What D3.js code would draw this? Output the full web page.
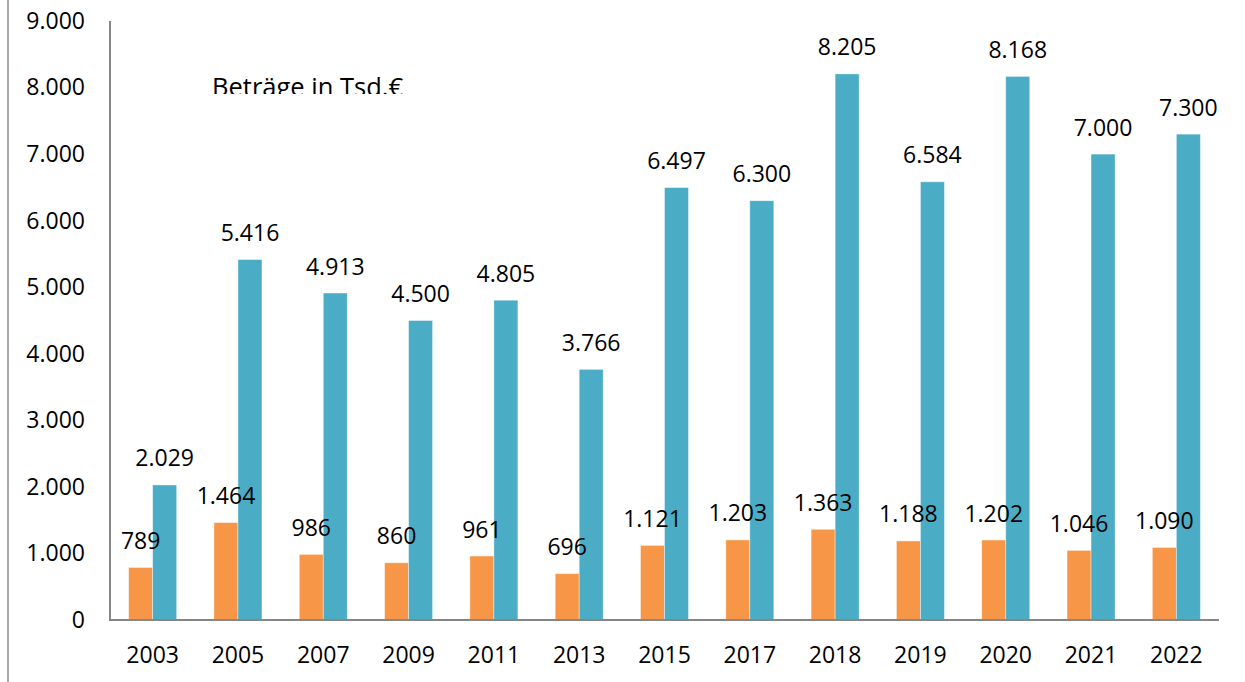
<!DOCTYPE html>
<html>
<head>
<meta charset="utf-8">
<script src="https://cdn.jsdelivr.net/npm/d3@7"></script>
<style>
  body { margin: 0; background: #fff; }
  svg { display: block; font-family: "Open Sans", sans-serif; }
</style>
</head>
<body>
<div id="chart"></div>
<script>
// Data
const years = ["2003", "2005", "2007", "2009", "2011", "2013", "2015", "2017", "2018", "2019", "2020", "2021", "2022"];
const orangeValues = [789, 1464, 986, 860, 961, 696, 1121, 1203, 1363, 1188, 1202, 1046, 1090];
const blueValues = [2029, 5416, 4913, 4500, 4805, 3766, 6497, 6300, 8205, 6584, 8168, 7000, 7300];
const yTicks = [0, 1000, 2000, 3000, 4000, 5000, 6000, 7000, 8000, 9000];

const W = 1245, H = 682;
const de = d3.formatLocale({ decimal: ",", thousands: ".", grouping: [3], currency: ["", "€"] });
const fmt = de.format(",");

const svg = d3.select("#chart").append("svg")
    .attr("width", W)
    .attr("height", H);

// left frame line
svg.append("line")
    .attr("x1", 8).attr("x2", 8)
    .attr("y1", 0).attr("y2", H)
    .attr("stroke", "#8c8c8c")
    .attr("stroke-width", 1.5);

const x = d3.scaleBand()
    .domain(years)
    .range([110, 1219])
    .padding(0);

const series = ["orange", "blue"];
const xs = d3.scaleBand()
    .domain(series)
    .range([0, 48]);

const y = d3.scaleLinear()
    .domain([0, 9000])
    .range([620, 21]);

const colors = { orange: "#F79646", blue: "#4BACC6" };

const rows = years.map((yr, i) => ({ year: yr, orange: orangeValues[i], blue: blueValues[i] }));

// y axis
const yAxis = svg.append("g")
    .attr("class", "y-axis")
    .attr("transform", "translate(110,0)")
    .call(d3.axisLeft(y).tickValues(yTicks).tickSize(0).tickPadding(25).tickFormat(fmt));
yAxis.select("path").remove();
yAxis.selectAll("text")
    .attr("fill", "#000")
    .attr("font-size", "23px")
    .attr("font-family", "Open Sans, sans-serif");

// bars
const groups = svg.selectAll(".grp")
    .data(rows)
    .enter()
    .append("g")
    .attr("class", "grp")
    .attr("transform", d => `translate(${x(d.year) + x.bandwidth() / 2 - 24},0)`);

groups.selectAll("rect")
    .data(d => series.map(k => ({ key: k, value: d[k] })))
    .enter()
    .append("rect")
    .attr("x", d => xs(d.key))
    .attr("y", d => y(d.value))
    .attr("width", xs.bandwidth())
    .attr("height", d => y(0) - y(d.value))
    .attr("fill", d => colors[d.key])
    .attr("stroke", "rgba(255,255,255,0.5)")
    .attr("stroke-width", 0.8);

// axis lines
svg.append("line")
    .attr("x1", 110).attr("x2", 110)
    .attr("y1", y(9000)).attr("y2", y(0))
    .attr("stroke", "#868686").attr("stroke-width", 2);
svg.append("line")
    .attr("x1", 109).attr("x2", 1219)
    .attr("y1", y(0)).attr("y2", y(0))
    .attr("stroke", "#868686").attr("stroke-width", 2);

// x labels
svg.selectAll(".xlab")
    .data(years)
    .enter()
    .append("text")
    .attr("class", "xlab")
    .attr("x", d => x(d) + x.bandwidth() / 2)
    .attr("y", 663)
    .attr("text-anchor", "middle")
    .attr("font-size", "23px")
    .text(d => d);

// value labels
groups.selectAll(".val")
    .data(d => series.map(k => ({ key: k, value: d[k] })))
    .enter()
    .append("text")
    .attr("class", "val")
    .attr("x", d => xs(d.key) + xs.bandwidth() / 2)
    .attr("y", d => y(d.value) - 18.5)
    .attr("text-anchor", "middle")
    .attr("font-size", "23px")
    .text(d => fmt(d.value));

// clipped unit note
svg.append("clipPath")
    .attr("id", "noteclip")
    .append("rect")
    .attr("x", 200).attr("y", 60).attr("width", 260).attr("height", 34);
svg.append("text")
    .attr("clip-path", "url(#noteclip)")
    .attr("x", 212)
    .attr("y", 96)
    .attr("font-size", "25.5px")
    .text("Beträge in Tsd.€");
</script>
</body>
</html>
